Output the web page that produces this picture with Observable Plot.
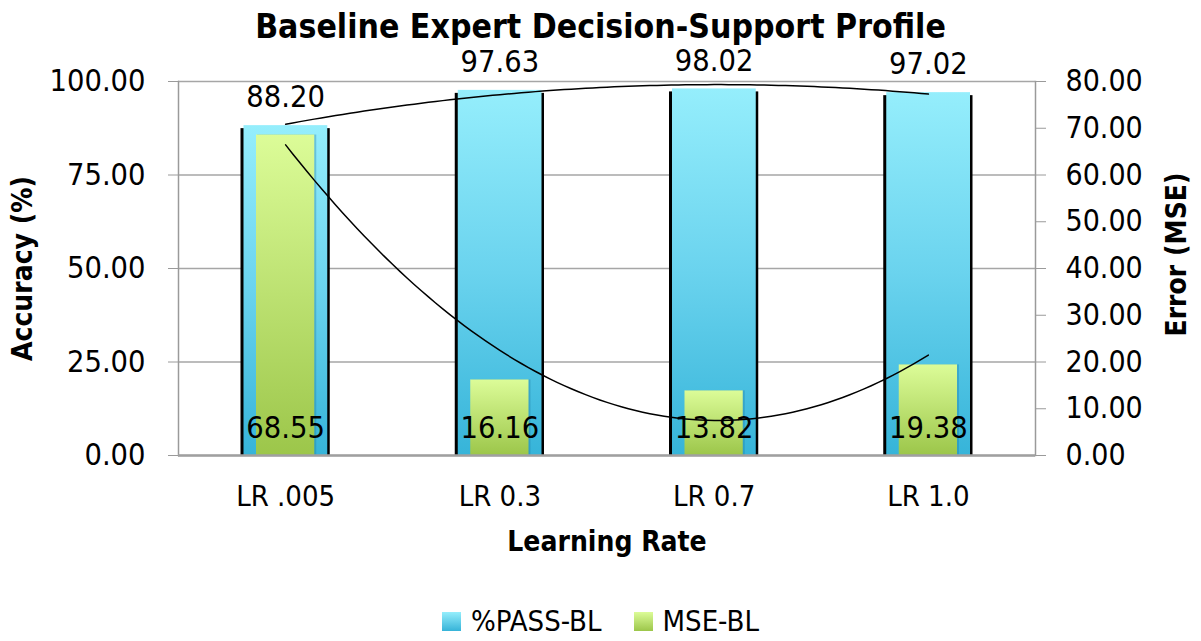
<!DOCTYPE html>
<html><head><meta charset="utf-8">
<script src="https://cdn.jsdelivr.net/npm/d3@7"></script>
<script src="https://cdn.jsdelivr.net/npm/@observablehq/plot@0.6"></script>
<style>
body{margin:0;background:#fff;font-family:"DejaVu Sans Condensed","DejaVu Sans",sans-serif;color:#000;width:1201px;overflow:hidden;}
#title{height:34px;line-height:54px;text-align:center;font-weight:bold;font-size:33.5px;font-stretch:condensed;white-space:nowrap;overflow:visible;position:relative;z-index:1;}
#chart svg{display:block;}
#legend{display:flex;justify-content:center;align-items:center;padding-top:11px;height:30px;line-height:30px;font-size:29px;font-stretch:condensed;}
.item{display:flex;align-items:center;margin:0 16px;}
.sw{width:19px;height:19px;margin-right:10px;}
</style></head><body>
<div id="title">Baseline Expert Decision-Support Profile</div>
<div id="chart"></div>
<div id="legend">
  <div class="item"><div class="sw" style="background:linear-gradient(#95eefc,#36b3d8)"></div><span>%PASS-BL</span></div>
  <div class="item"><div class="sw" style="background:linear-gradient(#dcfc98,#9cc64a)"></div><span>MSE-BL</span></div>
</div>
<script>
const categories = ["LR .005", "LR 0.3", "LR 0.7", "LR 1.0"];
const passBL = [88.20, 97.63, 98.02, 97.02];
const mseBL = [68.55, 16.16, 13.82, 19.38];
const accTicks = [0, 25, 50, 75, 100];
const mseTicks = [0, 10, 20, 30, 40, 50, 60, 70, 80];
const ACC_MAX = 100, MSE_MAX = 80;
const k = ACC_MAX / MSE_MAX;

const rows = categories.map((c, i) => ({c, i: i + 1, pass: passBL[i], mse: mseBL[i]}));

// least-squares quadratic trendline (spreadsheet-style polynomial trendline, order 2)
function quadFit(ys) {
  const xs = ys.map((_, i) => i + 1);
  const S = p => xs.reduce((s, x) => s + x ** p, 0);
  const T = p => xs.reduce((s, x, i) => s + x ** p * ys[i], 0);
  const A = [[S(0), S(1), S(2), T(0)], [S(1), S(2), S(3), T(1)], [S(2), S(3), S(4), T(2)]];
  for (let c = 0; c < 3; c++) {
    for (let r = c + 1; r < 3; r++) {
      const f = A[r][c] / A[c][c];
      for (let j = c; j < 4; j++) A[r][j] -= f * A[c][j];
    }
  }
  const sol = [0, 0, 0];
  for (let r = 2; r >= 0; r--) {
    let s = A[r][3];
    for (let j = r + 1; j < 3; j++) s -= A[r][j] * sol[j];
    sol[r] = s / A[r][r];
  }
  return sol;
}
function trend(ys, scale) {
  const [a, b, c] = quadFit(ys);
  const n = ys.length, pts = [];
  for (let s = 0; s <= 90; s++) {
    const x = 1 + (n - 1) * s / 90;
    pts.push({x, y: (a + b * x + c * x * x) * scale});
  }
  return pts;
}

const FONT = '"DejaVu Sans Condensed","DejaVu Sans",sans-serif';
const plot = Plot.plot({
  width: 1201, height: 561,
  marginLeft: 178, marginRight: 166, marginTop: 47, marginBottom: 140,
  style: {fontFamily: FONT, fontSize: "28px", color: "#000", background: "none", fontStretch: "condensed", overflow: "visible"},
  x: {domain: [0.5, 4.5], axis: null},
  y: {domain: [0, ACC_MAX], axis: null},
  marks: [
    Plot.gridY(accTicks, {stroke: "#a6a6a6", strokeOpacity: 1, strokeWidth: 1.3}),
    Plot.rectY(rows, {x1: d => d.i - 0.5, x2: d => d.i + 0.5, y1: 0, y2: "pass", insetLeft: 62.5, insetRight: 62.5, insetTop: 3, fill: "#000"}),
    Plot.rectY(rows, {x1: d => d.i - 0.5, x2: d => d.i + 0.5, y1: 0, y2: "pass", insetLeft: 65.5, insetRight: 65, fill: "url(#gBlue)"}),
    Plot.rectY(rows, {x1: d => d.i - 0.5, x2: d => d.i + 0.5, y1: 0, y2: d => d.mse * k, insetLeft: 79, insetRight: 76, fill: "rgba(30,120,160,0.35)"}),
    Plot.rectY(rows, {x1: d => d.i - 0.5, x2: d => d.i + 0.5, y1: 0, y2: d => d.mse * k, insetLeft: 78, insetRight: 78, fill: "url(#gGreen)"}),
    Plot.line(trend(passBL, 1), {x: "x", y: "y", stroke: "#000", strokeWidth: 1.5}),
    Plot.line(trend(mseBL, k), {x: "x", y: "y", stroke: "#000", strokeWidth: 1.5}),
    Plot.frame({anchor: "left", stroke: "#9a9a9a", strokeWidth: 1.5}),
    Plot.frame({anchor: "right", stroke: "#9a9a9a", strokeWidth: 1.5}),
    Plot.ruleY([0], {stroke: "#a0a0a0", strokeWidth: 2.5}),
    Plot.axisY({ticks: accTicks, tickFormat: d => d.toFixed(2), tickSize: 10, tickPadding: 23, stroke: "#9a9a9a", fontSize: 30.5, label: null}),
    Plot.axisY({anchor: "right", ticks: mseTicks.map(v => v * k), tickFormat: d => (d / k).toFixed(2), tickSize: 10, tickPadding: 20, stroke: "#9a9a9a", fontSize: 30, label: null}),
    Plot.axisX({ticks: rows.map(d => d.i), tickFormat: d => categories[d - 1], tickSize: 0, tickPadding: 30, fontSize: 29, label: null}),
    Plot.text(rows, {x: "i", y: "pass", text: d => d.pass.toFixed(2), dy: -28, fontSize: 30.5}),
    Plot.text(rows, {x: "i", y: 0, text: d => d.mse.toFixed(2), dy: -27, fontSize: 30.5}),
    Plot.text(["Accuracy (%)"], {frameAnchor: "left", textAnchor: "middle", rotate: -90, dx: -155, fontWeight: "bold", fontSize: 28}),
    Plot.text(["Error (MSE)"], {frameAnchor: "right", textAnchor: "middle", rotate: -90, dx: 142, dy: -14, fontWeight: "bold", fontSize: 28}),
    Plot.text(["Learning Rate"], {frameAnchor: "bottom", dy: 95, fontWeight: "bold", fontSize: 28})
  ]
});

const defs = d3.select(plot).insert("defs", ":first-child");
const gb = defs.append("linearGradient").attr("id", "gBlue").attr("x1", 0).attr("y1", 0).attr("x2", 0).attr("y2", 1);
gb.append("stop").attr("offset", "0%").attr("stop-color", "#95eefc");
gb.append("stop").attr("offset", "50%").attr("stop-color", "#6ad3ee");
gb.append("stop").attr("offset", "100%").attr("stop-color", "#36b4d9");
const gg = defs.append("linearGradient").attr("id", "gGreen").attr("x1", 0).attr("y1", 0).attr("x2", 0).attr("y2", 1);
gg.append("stop").attr("offset", "0%").attr("stop-color", "#dcfc98");
gg.append("stop").attr("offset", "100%").attr("stop-color", "#9cc64a");

document.getElementById("chart").appendChild(plot);
</script>
</body></html>
